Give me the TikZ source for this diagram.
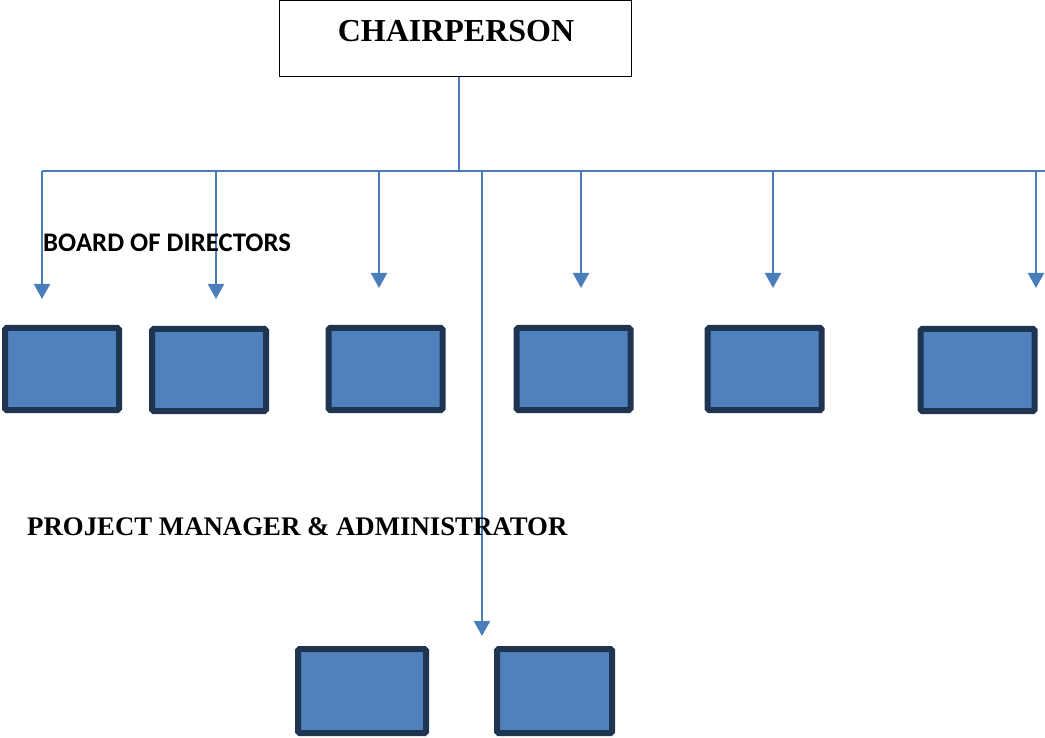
\documentclass[tikz,border=0pt]{standalone}
\usepackage{fontspec}
\setmainfont{Liberation Serif}
\newfontfamily\carlito{Carlito}
\usetikzlibrary{arrows.meta}
\definecolor{linkblue}{HTML}{4A7EBB}
\definecolor{boxfill}{HTML}{4F81BD}
\definecolor{boxedge}{HTML}{1E3450}
\tikzset{
  bluebox/.style={draw=boxedge, fill=boxfill, line width=6pt, rounded corners=1.5pt,
    minimum width=114pt, minimum height=82pt, inner sep=0pt},
  link/.style={draw=linkblue, line width=2.2pt},
  arrowlink/.style={link, -{Triangle[width=16pt,length=15pt]}},
}
\begin{document}
\begin{tikzpicture}[x=1pt,y=-1pt]
\useasboundingbox (0,0) rectangle (1045,738);
% chairperson
\node[draw=black, line width=1.4pt, minimum width=352pt, minimum height=76pt, inner sep=0pt] (chair) at (455.5,38.5) {};
\node[font=\fontsize{32}{36}\selectfont\bfseries] (chairtext) at (456,31) {CHAIRPERSON};
% bus
\coordinate (busL) at (42,171);
\coordinate (busR) at (1045,171);
\coordinate (busC) at (459,171);
\draw[link] (chair.south -| busC) -- (busC);
\draw[link] (busL) -- (busR);
% drop points on bus
\coordinate (d1) at (42,171);
\coordinate (d2) at (216,171);
\coordinate (d3) at (379,171);
\coordinate (d4) at (482,171);
\coordinate (d5) at (581,171);
\coordinate (d6) at (773,171);
\coordinate (d7) at (1036,171);
% arrow tips
\coordinate (t1) at (42,299);
\coordinate (t2) at (216,299);
\coordinate (t3) at (379,288);
\coordinate (t4) at (482,636);
\coordinate (t5) at (581,288);
\coordinate (t6) at (773,288);
\coordinate (t7) at (1036,288);
\foreach \i in {1,...,7} {\draw[arrowlink] (d\i) -- (t\i);}
% labels
\node[font=\carlito\fontsize{26.8}{30}\selectfont\bfseries, anchor=west, inner sep=0pt] (board) at (43,243) {BOARD OF DIRECTORS};
\node[font=\fontsize{26.8}{30}\selectfont\bfseries, anchor=west, inner sep=0pt] (pm) at (27,527) {PROJECT MANAGER \& ADMINISTRATOR};
% boxes
\node[bluebox] (b1) at (62,369) {};
\node[bluebox] (b2) at (209,370) {};
\node[bluebox] (b3) at (385.5,369) {};
\node[bluebox] (b4) at (573.5,369) {};
\node[bluebox] (b5) at (764.5,369) {};
\node[bluebox] (b6) at (977.5,370) {};
\node[bluebox, minimum width=128pt, minimum height=84pt] (b7) at (362,691) {};
\node[bluebox, minimum width=115pt, minimum height=84pt] (b8) at (554.5,691) {};
\end{tikzpicture}
\end{document}
